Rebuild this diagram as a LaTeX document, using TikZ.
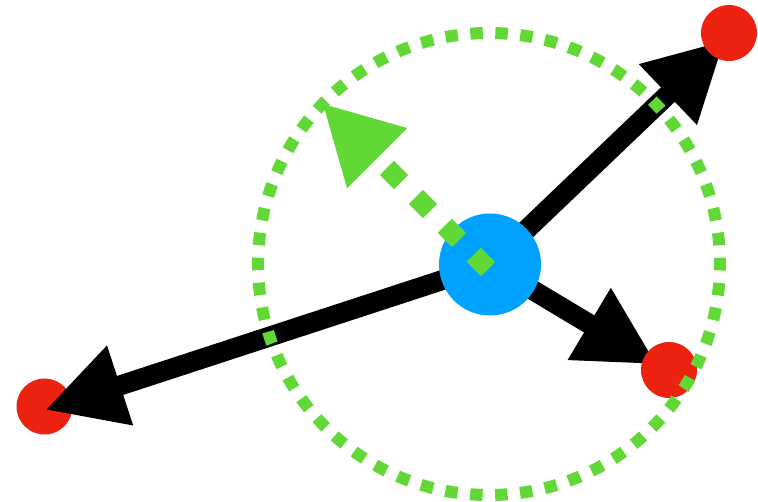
\documentclass[tikz,border=0pt]{standalone}
\usetikzlibrary{arrows.meta}
\definecolor{redc}{HTML}{EE2211}
\definecolor{bluec}{HTML}{00A2FF}
\definecolor{greenc}{HTML}{62D836}
\begin{document}
\begin{tikzpicture}[x=1pt,y=-1pt,
  reddot/.style={circle,fill=redc,minimum size=56pt,inner sep=0pt,outer sep=0pt},
  hub/.style={circle,fill=bluec,minimum size=102pt,inner sep=0pt,outer sep=0pt},
  blackarrow/.style={line width=20pt,-{Triangle[length=79pt,width=78pt]}},
  greenarrow/.style={draw=greenc,line width=20pt,dash pattern=on 20pt off 21pt,-{Triangle[length=78pt,width=79pt,fill=greenc]}},
  ring/.style={draw=greenc,line width=12pt,dash pattern=on 12.5pt off 12.524pt,dash phase=6.25pt}]
\useasboundingbox (0,0) rectangle (758,502);
% coordinates
\coordinate (hubc) at (490,264.5);
\coordinate (t1) at (725,40);
\coordinate (t2) at (45,410);
\coordinate (t3) at (657,364.5);
\coordinate (gstart) at (488,269);
\coordinate (gtip) at (322,103);
% left red dot under its arrow
\node[reddot] (r2) at (44.5,406.5) {};
% black arrows
\draw[blackarrow] (hubc) -- (t1);
\draw[blackarrow] (hubc) -- (t2);
\draw[blackarrow] (hubc) -- (t3);
% other red dots above arrows
\node[reddot] (r1) at (729,33) {};
\node[reddot] (r3) at (669,370) {};
% blue hub
\node[hub] (hub) at (hubc) {};
% dotted ring
\draw[ring] (489,264) circle[radius=231pt];
% green dashed arrow
\draw[greenarrow] (gstart) -- (gtip);
\end{tikzpicture}
\end{document}
